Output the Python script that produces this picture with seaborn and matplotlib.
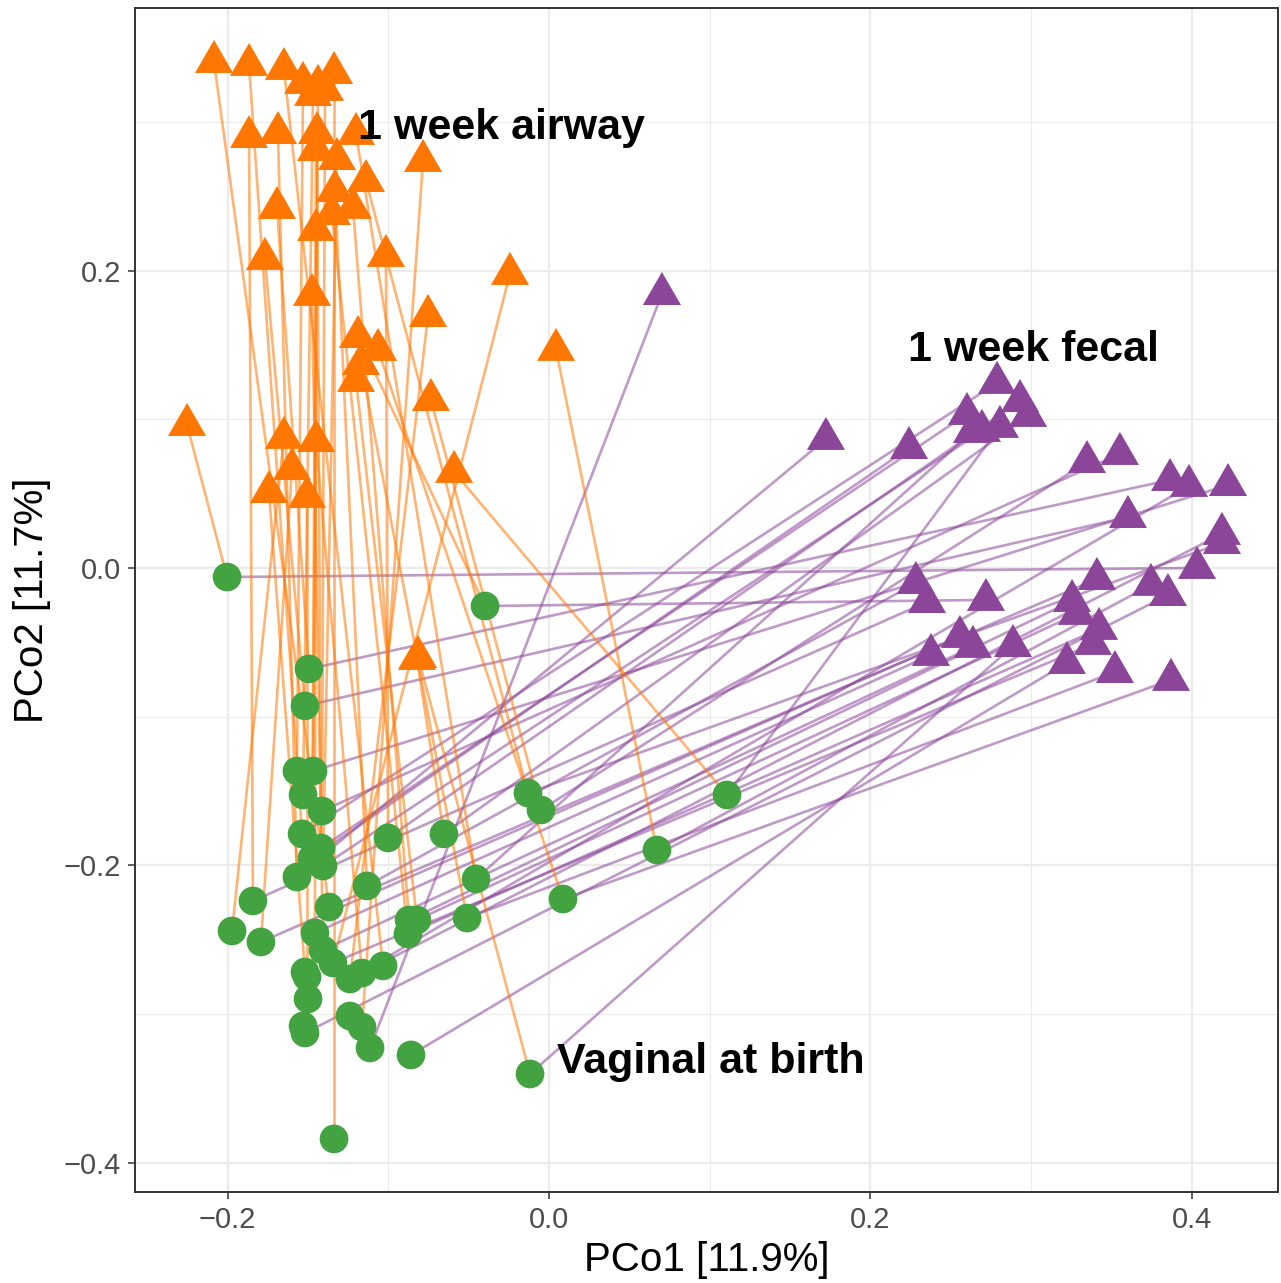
import numpy as np
import pandas as pd
import matplotlib
matplotlib.use("Agg")
import matplotlib.pyplot as plt
from matplotlib.path import Path
from matplotlib.markers import MarkerStyle
import seaborn as sns

# ---------------- data (one entry per subject) ----------------
# Vaginal sample at birth (green circles)
vag_x = [-0.2004, -0.0398, -0.1494, -0.1519, -0.1569, -0.1469, -0.1531, -0.1413,
         -0.0131, -0.0050, 0.1108, -0.1537, -0.1002, -0.0654, -0.1419, -0.1475,
         -0.1407, -0.1569, -0.0454, -0.1133, 0.0672, 0.0087, -0.1843, -0.1369,
         -0.1973, -0.1793, -0.0510, -0.0871, -0.0822, -0.0878, -0.1457, -0.1407,
         -0.1345, -0.1519, -0.1506, -0.1239, -0.1164, -0.1033, -0.1500, -0.1239,
         -0.1164, -0.1531, -0.1519, -0.1114, -0.0859, -0.0118, -0.1338]
vag_y = [-0.0061, -0.0256, -0.0679, -0.0928, -0.1366, -0.1366, -0.1527, -0.1635,
         -0.1514, -0.1628, -0.1527, -0.1789, -0.1816, -0.1789, -0.1884, -0.1951,
         -0.2005, -0.2079, -0.2092, -0.2139, -0.1897, -0.2227, -0.2240, -0.2281,
         -0.2442, -0.2516, -0.2355, -0.2368, -0.2368, -0.2462, -0.2455, -0.2570,
         -0.2657, -0.2718, -0.2751, -0.2765, -0.2725, -0.2677, -0.2899, -0.3014,
         -0.3088, -0.3081, -0.3128, -0.3229, -0.3276, -0.3404, -0.3841]

nan = np.nan
# 1 week airway sample (orange triangles), NaN = no sample
air_x = [-0.2253, -0.1189, -0.1693, -0.1768, -0.1531, -0.1438, -0.1469, -0.1394,
         -0.1139, -0.0735, -0.0591, -0.1867, -0.1015, -0.0822, -0.1444, -0.1450,
         -0.1320, -0.1687, -0.1201, -0.1332, 0.0044, -0.1064, -0.1867, -0.2085,
         -0.1650, -0.1600, -0.1170, -0.1220, -0.1201, -0.1351, -0.1450, -0.1475,
         -0.0243, -0.1743, -0.1506, -0.0753, -0.1450, -0.1650, nan, nan,
         -0.0784, nan, nan, nan, nan, -0.0815, -0.1338]
air_y = [0.0962, 0.1554, 0.2422, 0.2079, 0.3263, 0.3243, 0.3182, 0.3216,
         0.2603, 0.1130, 0.0646, 0.3384, 0.2099, -0.0612, 0.2926, 0.2812,
         0.2751, 0.2926, 0.2920, 0.2536, 0.1467, 0.1467, 0.2899, 0.3404,
         0.0875, 0.0666, 0.1372, 0.2422, 0.1258, 0.2381, 0.2274, 0.1837,
         0.1978, 0.0511, 0.0478, 0.1695, 0.0854, 0.3357, nan, nan,
         0.2738, nan, nan, nan, nan, -0.0599, 0.3330]

# 1 week fecal sample (purple triangles), NaN = no sample
fec_x = [0.4034, 0.2720, 0.3866, 0.3604, nan, 0.4227, nan, 0.3554,
         0.4189, 0.3349, 0.2807, 0.2789, 0.2932, 0.2982, 0.2602, 0.2241,
         0.2695, 0.1724, 0.2633, 0.2284, 0.3747, 0.3872, 0.2353, 0.3411,
         nan, 0.2558, 0.3523, 0.3256, 0.3287, 0.3424, 0.2378, 0.2639,
         0.3386, nan, nan, 0.3984, 0.4189, nan, nan, nan,
         nan, nan, 0.3853, 0.0703, 0.3224, 0.2888, nan]
fec_y = [0.0000, -0.0215, 0.0592, 0.0343, nan, 0.0558, nan, 0.0767,
         0.0168, 0.0713, 0.0949, 0.1245, 0.1123, 0.1023, 0.1036, 0.0807,
         0.0922, 0.0868, 0.0915, -0.0101, -0.0114, -0.0753, -0.0229, -0.0074,
         nan, -0.0464, -0.0700, -0.0222, -0.0309, -0.0410, -0.0585, -0.0531,
         -0.0511, nan, nan, 0.0552, 0.0229, nan, nan, nan,
         nan, nan, -0.0182, 0.1843, -0.0639, -0.0525, nan]

group_labels = ["1 week airway", "1 week fecal", "Vaginal at birth"]
x_title = "PCo1 [11.9%]"
y_title = "PCo2 [11.7%]"
x_ticks = [-0.2, 0.0, 0.2, 0.4]
x_ticklabels = ["\u22120.2", "0.0", "0.2", "0.4"]
y_ticks = [-0.4, -0.2, 0.0, 0.2]
y_ticklabels = ["\u22120.4", "\u22120.2", "0.0", "0.2"]

# ---------------- build tables ----------------
vag = pd.DataFrame({"x": vag_x, "y": vag_y})
air = pd.DataFrame({"x": air_x, "y": air_y}).dropna()
fec = pd.DataFrame({"x": fec_x, "y": fec_y}).dropna()

rows = []
for i in range(len(vag_x)):
    for kind, xs, ys in (("fecal", fec_x, fec_y), ("airway", air_x, air_y)):
        if not np.isnan(xs[i]):
            pid = f"{kind}{i}"
            rows.append((pid, kind, vag_x[i], vag_y[i]))
            rows.append((pid, kind, xs[i], ys[i]))
seg = pd.DataFrame(rows, columns=["pair", "type", "x", "y"])

# ---------------- style ----------------
GREEN = "#43A341"
ORANGE = "#FF7700"
PURPLE = "#8B4699"

sns.set_style("white")
plt.rcParams["font.family"] = ["Liberation Sans", "DejaVu Sans"]

fig = plt.figure(figsize=(12.81, 12.83), dpi=100)
ax = fig.add_axes([0.10539, 0.07093, 0.89227, 0.92284])

# connecting segments
sns.lineplot(data=seg, x="x", y="y", hue="type", units="pair", estimator=None,
             sort=False, hue_order=["fecal", "airway"],
             palette={"fecal": PURPLE, "airway": ORANGE},
             alpha=0.55, linewidth=1.9, legend=False, ax=ax, zorder=2)

# triangle marker centred on its centroid (like R's pch 17)
tri = Path([(0, 1), (-0.8660, -0.5), (0.8660, -0.5), (0, 1)],
           [Path.MOVETO, Path.LINETO, Path.LINETO, Path.CLOSEPOLY])
tri_marker = MarkerStyle(tri)

sns.scatterplot(data=vag, x="x", y="y", color=GREEN, s=427, linewidth=0,
                edgecolor="none", ax=ax, zorder=3)
sns.scatterplot(data=air, x="x", y="y", color=ORANGE, s=1004, marker=tri_marker,
                linewidth=0, edgecolor="none", ax=ax, zorder=3)
sns.scatterplot(data=fec, x="x", y="y", color=PURPLE, s=1004, marker=tri_marker,
                linewidth=0, edgecolor="none", ax=ax, zorder=3)

# group annotations
label_kw = dict(fontsize=31, fontweight="bold", color="black", ha="center",
                va="baseline", zorder=5)
ax.text(-0.0299, 0.2886, group_labels[0], **label_kw)
ax.text(0.3016, 0.1393, group_labels[1], **label_kw)
ax.text(0.1008, -0.3397, group_labels[2], **label_kw)

# axes
ax.set_xlim(-0.2577, 0.4538)
ax.set_ylim(-0.4198, 0.3767)
ax.set_xticks(x_ticks)
ax.set_xticklabels(x_ticklabels)
ax.set_yticks(y_ticks)
ax.set_yticklabels(y_ticklabels)
ax.set_xticks([-0.1, 0.1, 0.3], minor=True)
ax.set_yticks([-0.3, -0.1, 0.1, 0.3], minor=True)
ax.grid(which="major", color="#EBEBEB", linewidth=1.6, zorder=0)
ax.grid(which="minor", color="#EBEBEB", linewidth=0.8, zorder=0)
ax.set_axisbelow(True)
ax.tick_params(which="major", direction="out", length=5, width=1.1,
               color="#333333", labelcolor="#4D4D4D", labelsize=21, pad=5,
               bottom=True, left=True)
ax.tick_params(which="minor", length=0)
for sp in ax.spines.values():
    sp.set_visible(True)
    sp.set_color("#333333")
    sp.set_linewidth(1.4)
ax.set_xlabel(x_title, fontsize=29, color="black", labelpad=5)
ax.set_ylabel(y_title, fontsize=29, color="black", labelpad=9)

fig.savefig("out.png", dpi=100, facecolor="white")
